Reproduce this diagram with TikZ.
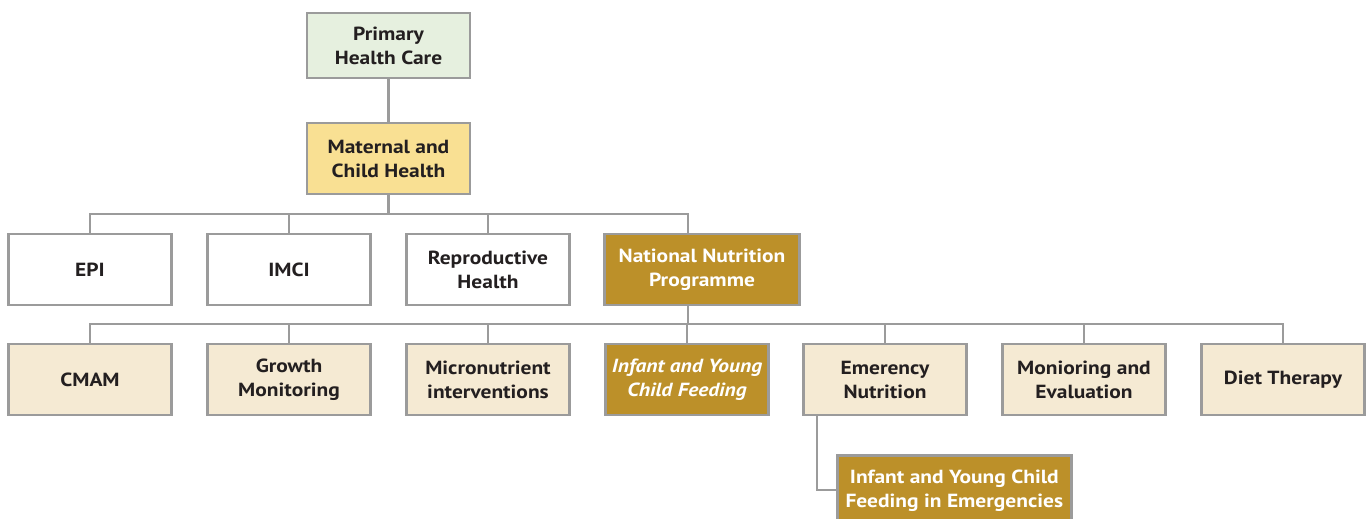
\documentclass[tikz,border=0pt]{standalone}
\usepackage{fontspec}
\setmainfont{PT Sans}[FakeStretch=1.13]
\definecolor{bordergray}{HTML}{9B9B9B}
\definecolor{phcgreen}{HTML}{E6F0DF}
\definecolor{mchyellow}{HTML}{F9E093}
\definecolor{gold}{HTML}{BC9029}
\definecolor{beige}{HTML}{F5EAD3}
\definecolor{ink}{HTML}{231F20}
\begin{document}
\begin{tikzpicture}[x=1pt,y=-1pt,
  box/.style={draw=bordergray,line width=2.6pt,minimum width=#1,minimum height=71pt,inner sep=0pt,
    align=center,font=\fontsize{19}{24}\selectfont\bfseries,text=ink},
  box/.default=163pt,
  whitebox/.style={box,fill=white},
  beigebox/.style={box,fill=beige},
  goldbox/.style={box=#1,fill=gold,text=white},
  goldbox/.default=163pt,
  conn/.style={draw=bordergray,line width=2.4pt}]
\useasboundingbox (0,0) rectangle (1370,519);
\node[box,fill=phcgreen,minimum height=65pt] (phc) at (388.5,45.5) {Primary\\Health Care};
\node[box,fill=mchyellow] (mch) at (388.5,158.5) {Maternal and\\Child Health};

\node[whitebox] (epi) at (90,269.5) {EPI};
\node[whitebox] (imci) at (289,269.5) {IMCI};
\node[whitebox] (rh) at (488,269.5) {Reproductive\\Health};
\node[goldbox=195pt] (nnp) at (702,269.5) {National Nutrition\\Programme};

\node[beigebox] (cmam) at (90,379.5) {CMAM};
\node[beigebox] (gm) at (289,379.5) {Growth\\Monitoring};
\node[beigebox] (mi) at (488,379.5) {Micronutrient\\interventions};
\node[goldbox] (iycf) at (687,379.5) {\itshape Infant and Young\\\itshape Child Feeding};
\node[beigebox] (en) at (885,379.5) {Emerency\\Nutrition};
\node[beigebox] (me) at (1084,379.5) {Monioring and\\Evaluation};
\node[beigebox] (dt) at (1283,379.5) {Diet Therapy};

\node[goldbox=234pt,anchor=north west] (iycfe) at (836,454) {Infant and Young Child\\Feeding in Emergencies};

\coordinate (bus1) at (388.5,214);
\coordinate (bus2) at (688,324);
\coordinate (enl) at (817,0);

\draw[conn] (phc) -- (mch);
\draw[conn] (mch) -- (bus1);
\draw[conn] (epi.north) |- (bus1) -| (rh.north);
\draw[conn] (imci.north) -- (imci.north |- bus1);
\draw[conn] (bus1) -| (nnp.north -| bus2);
\draw[conn] (nnp.south -| bus2) -- (bus2);
\draw[conn] (cmam.north) |- (bus2) -| (dt.north);
\foreach \n in {gm,mi,iycf,en,me}
  \draw[conn] (\n.north) -- (\n.north |- bus2);
\draw[conn] (en.south -| enl) |- (iycfe.west |- 0,490);
\end{tikzpicture}
\end{document}
